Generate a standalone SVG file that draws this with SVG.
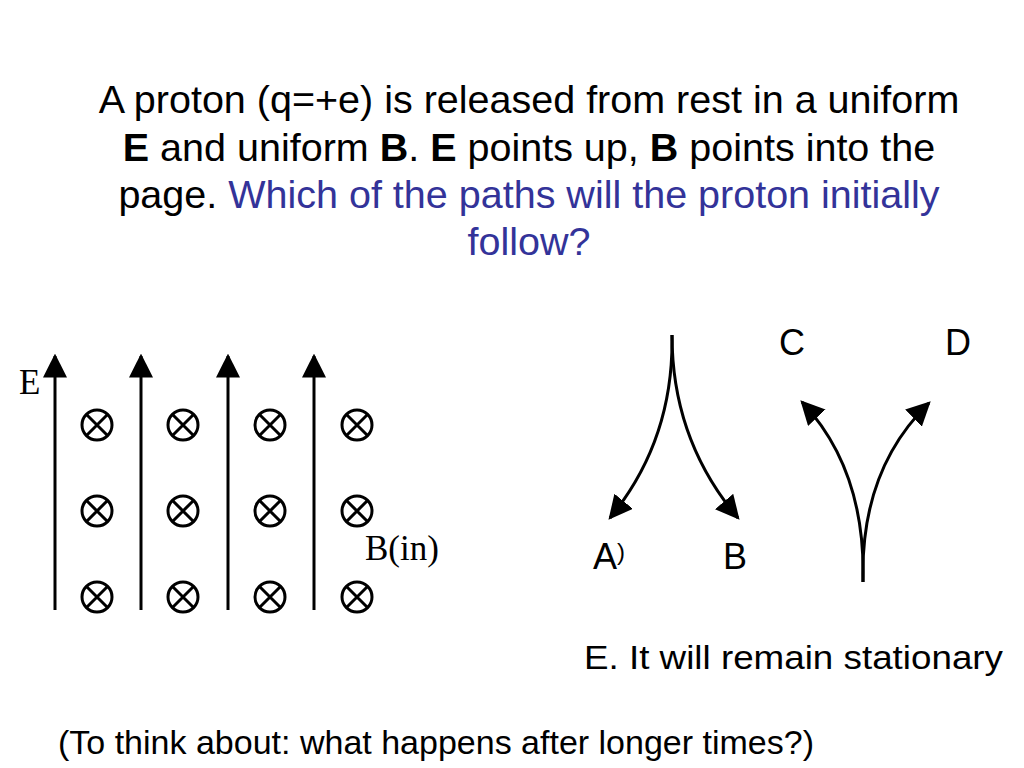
<svg xmlns="http://www.w3.org/2000/svg" width="1024" height="768" viewBox="0 0 1024 768">
<style>
.t{font-family:"Liberation Sans",Arial,sans-serif;font-size:39.5px;fill:#000}
.b{fill:#333399}
.s{font-family:"Liberation Serif","Times New Roman",serif;font-size:35px;fill:#000}
.l{font-family:"Liberation Sans",Arial,sans-serif;font-size:36px;fill:#000}
.f{stroke:#000;stroke-width:3;fill:none}
.c{stroke:#000;stroke-width:3;fill:none}
</style>
<defs>
<marker id="ah2" viewBox="0 0 10 10" refX="9" refY="5" markerWidth="8" markerHeight="8" orient="auto">
<path d="M0,0 L10,5 L0,10 z" fill="#000"/>
</marker>
<g id="x"><circle r="15" class="c"/><path d="M-10.5,-10.5 L10.5,10.5 M10.5,-10.5 L-10.5,10.5" class="c"/></g>
</defs>
<g id="title" text-anchor="middle">
<text class="t" x="529" y="113">A proton (q=+e) is released from rest in a uniform</text>
<text class="t" x="529" y="161"><tspan font-weight="bold">E</tspan> and uniform <tspan font-weight="bold">B</tspan>.  <tspan font-weight="bold">E</tspan> points up, <tspan font-weight="bold">B</tspan> points into the</text>
<text class="t" x="529" y="208">page.  <tspan class="b">Which of the paths will the proton initially</tspan></text>
<text class="t b" x="529" y="255">follow?</text>
</g>
<g id="fields">
<g class="f" marker-end="url(#ah2)">
<path d="M55,610 V356"/><path d="M141,610 V356"/><path d="M228,610 V356"/><path d="M314,610 V356"/>
</g>
<use href="#x" x="97" y="425"/><use href="#x" x="183" y="425"/><use href="#x" x="270" y="425"/><use href="#x" x="357" y="425"/>
<use href="#x" x="97" y="511"/><use href="#x" x="183" y="511"/><use href="#x" x="270" y="511"/><use href="#x" x="357" y="511"/>
<use href="#x" x="97" y="597"/><use href="#x" x="183" y="597"/><use href="#x" x="270" y="597"/><use href="#x" x="357" y="597"/>
<text class="s" x="19" y="394">E</text>
<text class="s" x="365" y="560">B(in)</text>
</g>
<g id="connectors" class="f" stroke-width="2.5">
<path d="M672,335 Q674,440 610,518" marker-end="url(#ah2)"/>
<path d="M672,335 Q672,440 738,518" marker-end="url(#ah2)"/>
<path d="M863,582 Q866,470 802,402" marker-end="url(#ah2)"/>
<path d="M863,582 Q860,470 929,403" marker-end="url(#ah2)"/>
</g>
<g id="labels">
<text class="l" x="593" y="569">A<tspan font-size="24" dy="-9">)</tspan></text>
<text class="l" x="723" y="569">B</text>
<text class="l" x="779" y="355">C</text>
<text class="l" x="945" y="355">D</text>
<text class="l" x="584" y="669" style="font-size:33px" textLength="419" lengthAdjust="spacingAndGlyphs">E. It will remain stationary</text>
</g>
<text class="t" x="58" y="754" style="font-size:34px">(To think about: what happens after longer times?)</text>
</svg>
